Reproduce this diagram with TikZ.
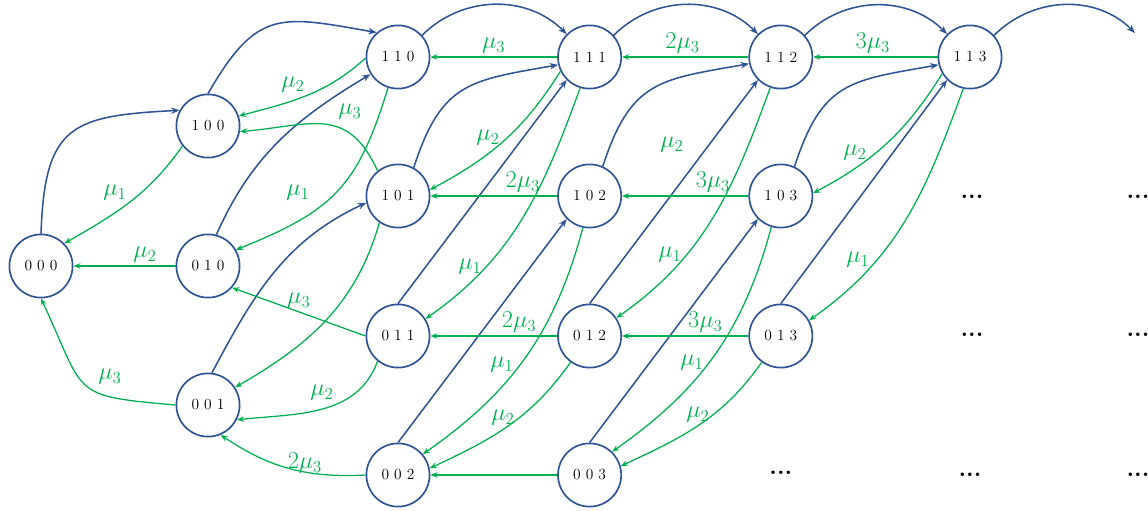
\documentclass[tikz,border=0pt]{standalone}
\usetikzlibrary{arrows.meta}
\definecolor{stateblue}{HTML}{2F5597}
\definecolor{rategreen}{HTML}{00B050}

\begin{document}
\begin{tikzpicture}[
    state/.style={circle, draw=stateblue, line width=1.2pt, minimum size=1.58cm, inner sep=0pt, font=\fontsize{11}{13}\selectfont},
    arrive/.style={stateblue, line width=1.1pt, -{Stealth[length=6pt,width=4.6pt]}},
    leave/.style={rategreen, line width=0.9pt, -{Stealth[length=5pt,width=4pt]}},
    rate/.style={text=rategreen, font=\LARGE, inner sep=2pt},
    more/.style={font=\LARGE\bfseries, inner sep=0pt}
]

    \useasboundingbox (0,0) rectangle (28.7,12.75);

    % Draw the states
    \node[state] (n000) at (1.025,6.1) {0 0 0};
    \node[state] (n100) at (5.2,9.6) {1 0 0};
    \node[state] (n010) at (5.2,6.1) {0 1 0};
    \node[state] (n001) at (5.2,2.625) {0 0 1};
    \node[state] (n110) at (9.95,11.325) {1 1 0};
    \node[state] (n101) at (9.95,7.85) {1 0 1};
    \node[state] (n011) at (9.95,4.35) {0 1 1};
    \node[state] (n002) at (9.95,0.875) {0 0 2};
    \node[state] (n111) at (14.74,11.325) {1 1 1};
    \node[state] (n102) at (14.74,7.85) {1 0 2};
    \node[state] (n012) at (14.74,4.35) {0 1 2};
    \node[state] (n003) at (14.74,0.875) {0 0 3};
    \node[state] (n112) at (19.52,11.325) {1 1 2};
    \node[state] (n103) at (19.52,7.85) {1 0 3};
    \node[state] (n013) at (19.52,4.35) {0 1 3};
    \node[state] (n113) at (24.25,11.325) {1 1 3};
    \coordinate (c113out) at (28.375,11.925);

    % Draw the dots for the states that are left out
    \node[more] (d103) at (24.3,7.825) {...};
    \node[more] (d104) at (28.45,7.825) {...};
    \node[more] (d013) at (24.3,4.375) {...};
    \node[more] (d014) at (28.45,4.375) {...};
    \node[more] (d004) at (19.52,0.925) {...};
    \node[more] (d005) at (24.25,0.875) {...};
    \node[more] (d006) at (28.45,0.875) {...};

    % Draw the arrivals
    \draw[arrive] (n000.north) to[out=88, in=183, looseness=1.5] (n100.151);
    \draw[arrive] (n100.north) to[out=60, in=170, looseness=1.4] (n110.131);
    \draw[arrive] (n010.75) to[out=66, in=211] (n110.212);
    \draw[arrive] (n001.83) to[out=62, in=205] (n101.192);
    \draw[arrive] (n110.42) to[out=45, in=135] (n111.135);
    \draw[arrive] (n101.61) to[out=72, in=190, looseness=1.3] (n111.194);
    \draw[arrive] (n011.north) -- (n111.225);
    \draw[arrive] (n002.north) -- (n102.225);
    \draw[arrive] (n111.42) to[out=45, in=135] (n112.135);
    \draw[arrive] (n102.66) to[out=72, in=190, looseness=1.3] (n112.192);
    \draw[arrive] (n012.north) -- (n112.225);
    \draw[arrive] (n003.north) -- (n103.225);
    \draw[arrive] (n112.42) to[out=45, in=135] (n113.135);
    \draw[arrive] (n103.65) to[out=72, in=190, looseness=1.3] (n113.194);
    \draw[arrive] (n013.north) -- (n113.225);
    \draw[arrive] (n113.42) to[out=45, in=135] (c113out);

    % Draw the departures
    \draw[leave] (n100.218) to[out=235, in=30] (n000.44);
    \draw[leave] (n010.west) -- (n000.east) node[rate, pos=0.3, above] {$\mu_2$};
    \draw[leave] (n001.west) to[out=175, in=295, looseness=1.6] (n000.south);
    \draw[leave] (n110.182) to[out=222, in=15] (n100.18);
    \draw[leave] (n101.129) to[out=115, in=5, looseness=1.3] (n100.350);
    \draw[leave] (n110.252) to[out=253, in=22, looseness=1.2] (n010.30);
    \draw[leave] (n011.west) -- (n010.318) node[rate, midway, above] {$\mu_3$};
    \draw[leave] (n101.235) to[out=254, in=30] (n001.33);
    \draw[leave] (n011.231) to[out=250, in=6] (n001.333);
    \draw[leave] (n002.west) to[out=183, in=326] (n001.293);

    \draw[leave] (n111.west) -- (n110.east) node[rate, midway, above] {$\mu_3$};
    \draw[leave] (n111.206) to[out=238, in=28] (n101.11);
    \draw[leave] (n102.west) -- (n101.east) node[rate, pos=0.27, above] {$2\mu_3$};
    \draw[leave] (n111.253) to[out=250, in=35] (n011.32);
    \draw[leave] (n012.west) -- (n011.east) node[rate, pos=0.3, above] {$2\mu_3$};
    \draw[leave] (n102.258) to[out=255, in=35] (n002.40);
    \draw[leave] (n012.234) to[out=235, in=25] (n002.12);
    \draw[leave] (n003.west) -- (n002.east);

    \draw[leave] (n112.west) -- (n111.east) node[rate, pos=0.52, above] {$2\mu_3$};
    \draw[leave] (n103.west) -- (n102.east) node[rate, pos=0.28, above] {$3\mu_3$};
    \draw[leave] (n112.251) to[out=250, in=35] (n012.34);
    \draw[leave] (n013.west) -- (n012.east) node[rate, pos=0.34, above] {$3\mu_3$};
    \draw[leave] (n103.253) to[out=255, in=35] (n003.46);
    \draw[leave] (n013.234) to[out=235, in=25] (n003.16);

    \draw[leave] (n113.west) -- (n112.east) node[rate, pos=0.52, above] {$3\mu_3$};
    \draw[leave] (n113.211) to[out=238, in=28] (n103.5);
    \draw[leave] (n113.258) to[out=250, in=35] (n013.29);

    % Add the rates of the curved departures
    \node[rate] (r100-000) at (2.875,7.925) {$\mu_1$};
    \node[rate] (r001-000) at (2.75,3.325) {$\mu_3$};
    \node[rate] (r110-100) at (7.325,10.625) {$\mu_2$};
    \node[rate] (r101-100) at (8.75,9.95) {$\mu_3$};
    \node[rate] (r110-010) at (7.45,7.925) {$\mu_1$};
    \node[rate] (r011-001) at (8.05,2.925) {$\mu_2$};
    \node[rate] (r002-001) at (7.625,1.175) {$2\mu_3$};
    \node[rate] (r111-101) at (12.2,9.3) {$\mu_2$};
    \node[rate] (r111-011) at (11.75,6.075) {$\mu_1$};
    \node[rate] (r102-002) at (12.55,3.625) {$\mu_1$};
    \node[rate] (r012-002) at (12.575,2.3) {$\mu_2$};
    \node[rate] (r112-102) at (16.8,9.125) {$\mu_2$};
    \node[rate] (r112-012) at (16.75,6.375) {$\mu_1$};
    \node[rate] (r103-003) at (17.3,3.675) {$\mu_1$};
    \node[rate] (r013-003) at (17.45,2.375) {$\mu_2$};
    \node[rate] (r113-103) at (21.375,8.925) {$\mu_2$};
    \node[rate] (r113-013) at (21.45,6.25) {$\mu_1$};

\end{tikzpicture}
\end{document}
